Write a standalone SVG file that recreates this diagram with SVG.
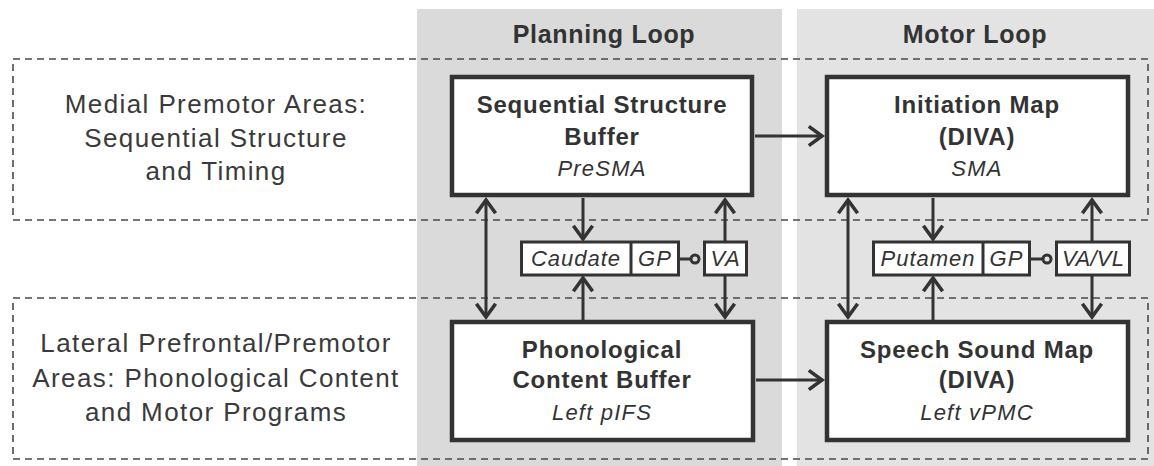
<svg xmlns="http://www.w3.org/2000/svg" width="1154" height="466" viewBox="0 0 1154 466">
  <defs>
    <style>
      .panel-a { fill: #dadada; }
      .panel-b { fill: #e3e3e3; }
      .region { fill: none; stroke: #4a4a4a; stroke-width: 1.6; stroke-dasharray: 7 5; }
      .big { fill: #ffffff; stroke: #333333; stroke-width: 4.5; }
      .small { fill: #ffffff; stroke: #333333; stroke-width: 3; }
      .conn { fill: none; stroke: #333333; stroke-width: 3; }
      .title { font-family: "Liberation Sans", Arial, sans-serif; font-weight: bold; font-size: 25px; letter-spacing: 0.7px; fill: #333333; text-anchor: middle; }
      .lab { font-family: "Liberation Sans", Arial, sans-serif; font-size: 26px; letter-spacing: 1.4px; fill: #3a3a3a; text-anchor: middle; }
      .bt { font-family: "Liberation Sans", Arial, sans-serif; font-weight: bold; font-size: 24px; letter-spacing: 0.8px; fill: #333333; text-anchor: middle; }
      .it { font-family: "Liberation Sans", Arial, sans-serif; font-style: italic; font-size: 22px; letter-spacing: 1.2px; fill: #333333; text-anchor: middle; }
      .sit { font-family: "Liberation Sans", Arial, sans-serif; font-style: italic; font-size: 22px; letter-spacing: 1px; fill: #333333; text-anchor: middle; }
    </style>
    <marker id="arr" markerUnits="userSpaceOnUse" markerWidth="24" markerHeight="24" viewBox="-14 -10 16 20" refX="0" refY="0" orient="auto-start-reverse">
      <path d="M -11 -8 L 0 0 L -11 8" fill="none" stroke="#333333" stroke-width="3"/>
    </marker>
  </defs>

  <g id="panels">
    <rect class="panel-a" x="417" y="9" width="365" height="457"/>
    <rect class="panel-b" x="797" y="9" width="357" height="457"/>
    <text class="title" x="604" y="43">Planning Loop</text>
    <text class="title" x="975" y="43">Motor Loop</text>
  </g>

  <g id="regions">
    <rect class="region" x="13" y="59" width="1135" height="161"/>
    <rect class="region" x="13" y="298" width="1135" height="161"/>
    <text class="lab" x="216" y="113">Medial Premotor Areas:</text>
    <text class="lab" x="216" y="147">Sequential Structure</text>
    <text class="lab" x="216" y="180">and Timing</text>
    <text class="lab" x="216" y="352">Lateral Prefrontal/Premotor</text>
    <text class="lab" x="216" y="387">Areas: Phonological Content</text>
    <text class="lab" x="216" y="421">and Motor Programs</text>
  </g>

  <g id="connectors">
    <line class="conn" x1="755" y1="136" x2="822" y2="136" marker-end="url(#arr)"/>
    <line class="conn" x1="756" y1="380" x2="822" y2="380" marker-end="url(#arr)"/>
    <line class="conn" x1="486" y1="200" x2="486" y2="317" marker-start="url(#arr)" marker-end="url(#arr)"/>
    <line class="conn" x1="583" y1="198" x2="583" y2="239" marker-end="url(#arr)"/>
    <line class="conn" x1="583" y1="320" x2="583" y2="278" marker-end="url(#arr)"/>
    <line class="conn" x1="725" y1="241" x2="725" y2="200" marker-end="url(#arr)"/>
    <line class="conn" x1="725" y1="276" x2="725" y2="317" marker-end="url(#arr)"/>
    <line class="conn" x1="848" y1="200" x2="848" y2="317" marker-start="url(#arr)" marker-end="url(#arr)"/>
    <line class="conn" x1="933" y1="198" x2="933" y2="239" marker-end="url(#arr)"/>
    <line class="conn" x1="933" y1="320" x2="933" y2="278" marker-end="url(#arr)"/>
    <line class="conn" x1="1092" y1="241" x2="1092" y2="200" marker-end="url(#arr)"/>
    <line class="conn" x1="1092" y1="276" x2="1092" y2="317" marker-end="url(#arr)"/>
    <line class="conn" x1="680" y1="259" x2="691" y2="259"/>
    <circle class="conn" cx="695" cy="259" r="4"/>
    <line class="conn" x1="1031" y1="259" x2="1043" y2="259"/>
    <circle class="conn" cx="1047" cy="259" r="4"/>
  </g>

  <g id="node-ssb">
    <rect class="big" x="452" y="77" width="300" height="118"/>
    <text class="bt" x="602" y="113">Sequential Structure</text>
    <text class="bt" x="602" y="145">Buffer</text>
    <text class="it" x="602" y="176">PreSMA</text>
  </g>
  <g id="node-init">
    <rect class="big" x="827" y="77" width="301" height="118"/>
    <text class="bt" x="977" y="113">Initiation Map</text>
    <text class="bt" x="977" y="145">(DIVA)</text>
    <text class="it" x="977" y="176">SMA</text>
  </g>
  <g id="node-pcb">
    <rect class="big" x="452" y="322" width="301" height="118"/>
    <text class="bt" x="602" y="358">Phonological</text>
    <text class="bt" x="602" y="388">Content Buffer</text>
    <text class="it" x="602" y="420">Left pIFS</text>
  </g>
  <g id="node-ssm">
    <rect class="big" x="827" y="322" width="301" height="118"/>
    <text class="bt" x="977" y="358">Speech Sound Map</text>
    <text class="bt" x="977" y="388">(DIVA)</text>
    <text class="it" x="977" y="420">Left vPMC</text>
  </g>
  <g id="node-caudate-gp">
    <rect class="small" x="521.5" y="242" width="157" height="33"/>
    <line class="small" x1="631" y1="242" x2="631" y2="275"/>
    <text class="sit" x="576" y="266">Caudate</text>
    <text class="sit" x="655" y="266">GP</text>
  </g>
  <g id="node-va">
    <rect class="small" x="704.5" y="242" width="42" height="33"/>
    <text class="sit" x="725.5" y="266">VA</text>
  </g>
  <g id="node-putamen-gp">
    <rect class="small" x="873.5" y="242" width="156" height="33"/>
    <line class="small" x1="983" y1="242" x2="983" y2="275"/>
    <text class="sit" x="928" y="266">Putamen</text>
    <text class="sit" x="1006.5" y="266">GP</text>
  </g>
  <g id="node-vavl">
    <rect class="small" x="1056.5" y="242" width="73" height="33"/>
    <text class="sit" x="1093" y="266" style="letter-spacing:0.2px">VA/VL</text>
  </g>
</svg>
